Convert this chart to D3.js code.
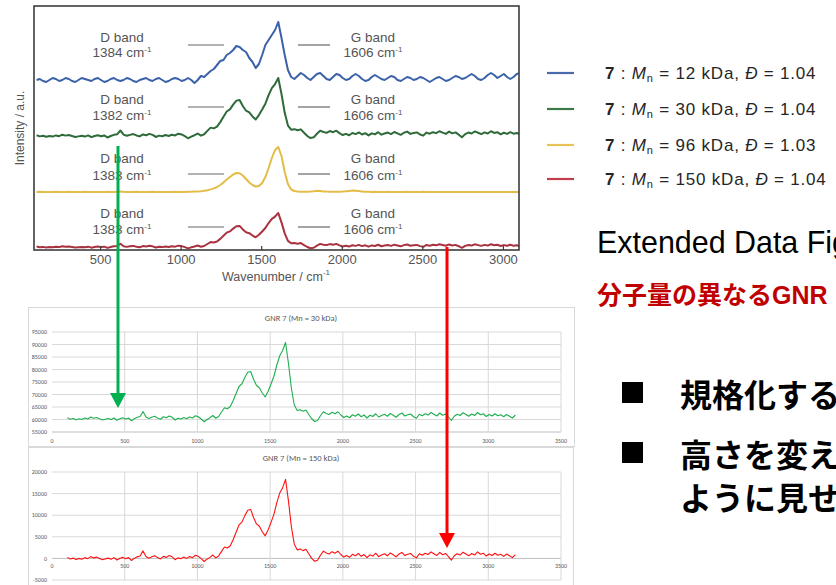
<!DOCTYPE html>
<html><head><meta charset="utf-8">
<script src="https://cdn.jsdelivr.net/npm/d3@7"></script>
<style>
html,body{margin:0;padding:0;background:#fff;overflow:hidden}
svg{display:block}
</style></head><body>
<svg id="c" width="836" height="585"></svg>
<script>
// Raman spectra of GNR 7 samples, sampled every 20 cm-1 from 106 cm-1
const waveStart = 106, waveStep = 20;

// Mn = 12 kDa (a.u., baseline 0)
const mn12 = [
  0, 1, -1, -2, 0, 2, 1, -1, 0, 2,
  1, -1, -2, 0, 2, 1, 0, -1, 1, 2,
  0, -2, -1, 1, 2, 0, -1, 0, 2, 1,
  -1, -2, 0, 1, 2, 0, -1, 1, 2, 0,
  -2, -1, 1, 2, 1, -1, 0, 2, 0, -3,
  0, 4, 3, 6, 9, 11, 15, 19, 20, 25,
  27, 30, 34, 33, 30, 28, 22, 18, 12, 16,
  25, 35, 40, 45, 50, 58, 42, 25, 10, 3,
  1, 4, 7, 5, 2, 0, 3, 6, 7, 4,
  1, 0, 3, 6, 5, 2, 0, 1, 4, 6,
  4, 1, -1, 0, 3, 5, 3, 1, 0, 2,
  4, 3, 0, -1, 1, 3, 2, 0, 1, 3,
  2, 0, -2, 0, 2, 3, 1, -1, 0, 2,
  4, 3, 1, 2, 4, 6, 4, 1, 0, 2,
  5, 7, 5, 2, 4, 6, 3, 1, 3, 6,
  7, 4, 2, 5, 3
];

// Mn = 30 kDa (counts)
const mn30 = [
  60700, 60100, 60400, 59900, 60300, 60000, 60600, 60200, 61000, 60500,
  60800, 60300, 59800, 60100, 60400, 60000, 60600, 59700, 60300, 60700,
  60200, 60600, 59500, 60300, 60900, 61200, 63200, 61000, 60400, 60900,
  61300, 60600, 60100, 61100, 60700, 61400, 60900, 59800, 60500, 60200,
  60800, 60300, 61000, 60600, 61500, 61100, 60200, 59100, 60000, 60700,
  61600, 60500, 61200, 63000, 64700, 64300, 65200, 67600, 70400, 73200,
  74300, 76800, 78900, 79200, 76100, 73600, 72700, 70600, 69000, 71300,
  74200, 77300, 81800, 85500, 87600, 90800, 82400, 72500, 65800, 63600,
  63900, 63300, 63800, 62000, 60300, 59200, 59600, 61500, 63100, 62400,
  62000, 62900, 62300, 63100, 61800, 60800, 61400, 60700, 61900, 61300,
  62200, 61100, 61800, 60600, 61700, 61200, 62300, 61000, 61600, 62100,
  61300, 62400, 61700, 60900, 62000, 62600, 61400, 61900, 62200, 61100,
  60500, 62100, 61500, 62300, 61800, 62800, 62100, 61400, 62600, 61700,
  62200, 61000, 59600, 61300, 62100, 61600, 62700, 62000, 61300, 62200,
  61600, 62800, 61900, 62300, 61200, 62000, 61400, 62300, 61500, 61900,
  61100, 62000, 61300, 60600, 61800
];

// Mn = 96 kDa (a.u., baseline 0)
const mn96 = [
  0, 0.2, 0.1, 0, -0.1, 0, 0.2, 0.1, 0, 0.1,
  0.2, 0, -0.1, 0, 0.1, 0.2, 0, 0.1, 0, -0.1,
  0, 0.1, 0.2, 0.1, 0, 0.2, 0.4, 0.2, 0.1, 0,
  0.1, 0.2, 0, 0.1, 0, 0.1, 0.2, 0, 0.1, 0,
  0.1, 0, 0.1, 0.2, 0.1, 0, 0.1, 0.2, 0.3, 0.4,
  0.5, 0.8, 1.2, 1.8, 2.6, 3.6, 5, 7, 9.5, 12.5,
  15, 17.5, 19, 18.8, 16.5, 13, 9.5, 7, 5.5, 6,
  9, 15, 24, 34, 42, 45, 36, 20, 8, 2.5,
  1, 0.5, 0.3, 0.2, 0.3, 0.5, 0.8, 1.2, 1, 0.6,
  0.4, 0.3, 0.2, 0.3, 0.2, 0.4, 0.7, 1.1, 1.5, 1.3,
  0.9, 0.5, 0.3, 0.2, 0.1, 0.2, 0.1, 0, 0.1, 0.2,
  0.1, 0, 0.1, 0, 0.1, 0.2, 0.1, 0, 0, 0.1,
  0.2, 0.1, 0, 0.1, 0, -0.1, 0, 0.1, 0, 0,
  0.1, 0, 0, 0.1, 0, -0.1, 0, 0.1, 0, 0.1,
  0, 0, 0.1, 0, -0.1, 0, 0.1, 0, 0, 0.1,
  0, 0.1, 0, 0, 0.1
];

// Mn = 150 kDa (counts)
const mn150 = [
  240, -120, 60, -240, 0, -180, 180, -60, 420, 120,
  300, 0, -300, -120, 60, -180, 180, -360, 0, 240,
  -60, 180, -480, 0, 360, 540, 1740, 420, 60, 360,
  600, 180, -120, 480, 240, 660, 360, -300, 120, -60,
  300, 0, 420, 180, 720, 480, -60, -720, -180, 240,
  780, 120, 540, 1620, 2640, 2400, 2940, 4380, 6060, 7740,
  8400, 9900, 11160, 11340, 9480, 7980, 7440, 6180, 5220, 6600,
  8340, 10200, 12900, 15120, 16380, 18300, 13260, 7320, 3300, 1980,
  2160, 1800, 2100, 1020, 0, -660, -420, 720, 1680, 1260,
  1020, 1560, 1200, 1680, 900, 300, 660, 240, 960, 600,
  1140, 480, 900, 180, 840, 540, 1200, 420, 780, 1080,
  600, 1260, 840, 360, 1020, 1380, 660, 960, 1140, 480,
  120, 1080, 720, 1200, 900, 1500, 1080, 660, 1380, 840,
  1140, 420, -420, 600, 1080, 780, 1440, 1020, 600, 1140,
  780, 1500, 960, 1200, 540, 1020, 660, 1200, 720, 960,
  480, 1020, 600, 180, 900
];

const seriesMn = ["12", "30", "96", "150"];
const seriesDispersity = ["1.04", "1.04", "1.03", "1.04"];
const dBandPos = ["1384", "1382", "1383", "1383"];
const gBandPos = ["1606", "1606", "1606", "1606"];
const stackTicks = [500, 1000, 1500, 2000, 2500, 3000];
const sheetXTicks = [0, 500, 1000, 1500, 2000, 2500, 3000, 3500];
const sheet30YTicks = [55000, 60000, 65000, 70000, 75000, 80000, 85000, 90000, 95000];
const sheet150YTicks = [-5000, 0, 5000, 10000, 15000, 20000];

const wavenumbers = mn30.map((_, i) => waveStart + i * waveStep);
const spectra = [mn12, mn30, mn96, mn150];

const svg = d3.select("#c");
const sans = "Liberation Sans, Arial, Helvetica, sans-serif";

// ---------- stacked spectra panel ----------
const frame = {x0: 34, x1: 519, y0: 6, y1: 250};
const xStack = d3.scaleLinear().domain([90, 3100]).range([frame.x0, frame.x1]);
const traceColors = ["#3b62a8", "#2f6b3a", "#e3bd48", "#a8323f"];
const traceBands = [
  {domain: [0, 58], range: [80, 22]},
  {domain: [60300, 90800], range: [136, 78]},
  {domain: [0, 45], range: [192, 147]},
  {domain: [0, 18300], range: [247, 213]}
];
const labelRows = [
  {tick: 45, t1: 42, t2: 57},
  {tick: 107, t1: 104, t2: 120},
  {tick: 174, t1: 163, t2: 180},
  {tick: 227, t1: 218, t2: 234}
];

svg.append("clipPath").attr("id", "frameClip")
  .append("rect").attr("x", frame.x0).attr("y", frame.y0)
  .attr("width", frame.x1 - frame.x0).attr("height", frame.y1 - frame.y0);

const stack = svg.append("g");
const traces = stack.append("g").attr("clip-path", "url(#frameClip)");
spectra.forEach((vals, k) => {
  const y = d3.scaleLinear().domain(traceBands[k].domain).range(traceBands[k].range);
  const line = d3.line().x((d, i) => xStack(wavenumbers[i])).y(d => y(d));
  traces.append("path").datum(vals)
    .attr("d", line).attr("fill", "none")
    .attr("stroke", traceColors[k]).attr("stroke-width", 2)
    .attr("stroke-linejoin", "round");
});

// band annotations
function bandLabel(g, cx, row, name, pos) {
  g.append("text").attr("x", cx).attr("y", row.t1).attr("text-anchor", "middle")
    .attr("font-family", sans).attr("font-size", 13.5).attr("fill", "#555").text(name);
  const t = g.append("text").attr("x", cx).attr("y", row.t2).attr("text-anchor", "middle")
    .attr("font-family", sans).attr("font-size", 13.5).attr("fill", "#555");
  t.append("tspan").text(pos + " cm");
  t.append("tspan").attr("font-size", 8).attr("dy", -5).text("-1");
}
labelRows.forEach((row, k) => {
  stack.append("line").attr("x1", 188).attr("x2", 224).attr("y1", row.tick).attr("y2", row.tick)
    .attr("stroke", "#666").attr("stroke-width", 1.2);
  stack.append("line").attr("x1", 298).attr("x2", 330).attr("y1", row.tick).attr("y2", row.tick)
    .attr("stroke", "#666").attr("stroke-width", 1.2);
  bandLabel(stack, 122, row, "D band", dBandPos[k]);
  bandLabel(stack, 373, row, "G band", gBandPos[k]);
});

stack.append("rect").attr("x", frame.x0).attr("y", frame.y0)
  .attr("width", frame.x1 - frame.x0).attr("height", frame.y1 - frame.y0)
  .attr("fill", "none").attr("stroke", "#3c3c3c").attr("stroke-width", 1.6);

const stackAxis = stack.append("g").attr("transform", `translate(0,${frame.y1})`)
  .call(d3.axisBottom(xStack).tickValues(stackTicks).tickFormat(d3.format("d"))
    .tickSizeInner(-4).tickSizeOuter(0).tickPadding(5));
stackAxis.select(".domain").remove();
stackAxis.selectAll("line").attr("stroke", "#3c3c3c").attr("stroke-width", 1.2);
stackAxis.selectAll("text").attr("font-family", sans).attr("font-size", 13).attr("fill", "#555");

const xTitle = stack.append("text").attr("x", 222).attr("y", 281)
  .attr("font-family", sans).attr("font-size", 12.5).attr("fill", "#555");
xTitle.append("tspan").text("Wavenumber / cm");
xTitle.append("tspan").attr("font-size", 8).attr("dy", -6).text("-1");

stack.append("text").attr("transform", "translate(24,128) rotate(-90)")
  .attr("text-anchor", "middle").attr("font-family", sans).attr("font-size", 12)
  .attr("fill", "#555").text("Intensity / a.u.");

// legend
const legendColors = ["#4a6aaa", "#3c7848", "#e8c458", "#c23c4c"];
const legendRows = [73, 109, 145, 179];
seriesMn.forEach((mn, k) => {
  const ly = legendRows[k];
  svg.append("line").attr("x1", 547).attr("x2", 574).attr("y1", ly).attr("y2", ly)
    .attr("stroke", legendColors[k]).attr("stroke-width", 2.2);
  const t = svg.append("text").attr("x", 605).attr("y", ly + 6)
    .attr("font-family", sans).attr("font-size", 17).attr("letter-spacing", 0.8)
    .attr("fill", "#262626");
  t.append("tspan").attr("font-weight", "bold").text("7");
  t.append("tspan").text(" : ");
  t.append("tspan").attr("font-style", "italic").text("M");
  t.append("tspan").attr("font-size", 11).attr("dy", 3).text("n");
  t.append("tspan").attr("dy", -3).text(` = ${mn} kDa, `);
  t.append("tspan").attr("font-style", "italic").text("Đ");
  t.append("tspan").text(` = ${seriesDispersity[k]}`);
});

// ---------- spreadsheet-style panels ----------
const xSheet = d3.scaleLinear().domain([0, 3500]).range([52, 561]);
const gridColor = "#d9d9d9", labelColor = "#595959";
const excelFont = "Carlito, Liberation Sans, Arial, sans-serif";

function sheetPanel(box, yScale, yTicks, vals, color, title, titleY, xLabelY, axisVal) {
  const g = svg.append("g");
  g.append("rect").attr("x", box.x).attr("y", box.y).attr("width", box.w).attr("height", box.h)
    .attr("fill", "#fff").attr("stroke", gridColor).attr("stroke-width", 1);
  const [yb, yt] = yScale.range();
  yTicks.forEach(v => {
    g.append("line").attr("x1", xSheet(0)).attr("x2", xSheet(3500))
      .attr("y1", yScale(v)).attr("y2", yScale(v))
      .attr("stroke", v === axisVal ? "#bfbfbf" : gridColor).attr("stroke-width", 1);
    g.append("text").attr("x", 47).attr("y", yScale(v)).attr("dy", "0.35em")
      .attr("text-anchor", "end").attr("font-family", excelFont).attr("font-size", 6)
      .attr("fill", labelColor).text(v);
  });
  sheetXTicks.forEach(v => {
    if (v > 0) g.append("line").attr("x1", xSheet(v)).attr("x2", xSheet(v))
      .attr("y1", yt).attr("y2", yb).attr("stroke", gridColor).attr("stroke-width", 1);
    g.append("text").attr("x", xSheet(v)).attr("y", xLabelY).attr("dy", "0.35em")
      .attr("text-anchor", "middle").attr("font-family", excelFont).attr("font-size", 6)
      .attr("fill", labelColor).text(v);
  });
  g.append("text").attr("x", 301).attr("y", titleY).attr("dy", "0.35em").attr("text-anchor", "middle")
    .attr("font-family", excelFont).attr("font-size", 8.5).attr("fill", labelColor).text(title);
  const line = d3.line().x((d, i) => xSheet(wavenumbers[i])).y(d => yScale(d));
  g.append("path").datum(vals).attr("d", line).attr("fill", "none")
    .attr("stroke", color).attr("stroke-width", 1.1).attr("stroke-linejoin", "round");
}

sheetPanel({x: 28.5, y: 307.5, w: 546, h: 139},
  d3.scaleLinear().domain([55000, 95000]).range([432, 332]),
  sheet30YTicks, mn30, "#1fae4f", "GNR 7 (Mn = 30 kDa)", 318, 441, 55000);
sheetPanel({x: 28.5, y: 447.5, w: 545, h: 150},
  d3.scaleLinear().domain([-5000, 20000]).range([580, 472]),
  sheet150YTicks, mn150, "#ff1010", "GNR 7 (Mn = 150 kDa)", 458, 566, 0);

// ---------- arrows ----------
function arrow(x, yStart, yTip, color) {
  svg.append("line").attr("x1", x).attr("x2", x).attr("y1", yStart).attr("y2", yTip - 12)
    .attr("stroke", color).attr("stroke-width", 3);
  svg.append("path").attr("d", `M${x - 8},${yTip - 15}L${x + 8},${yTip - 15}L${x},${yTip}Z`)
    .attr("fill", color);
}
arrow(118, 146, 408, "#00b050");
arrow(447, 247, 548, "#ff0000");

// ---------- notes ----------
svg.append("text").attr("x", 597).attr("y", 253)
  .attr("font-family", "Liberation Sans Narrow, Arial Narrow, Liberation Sans, sans-serif")
  .attr("font-size", 32).attr("textLength", 252).attr("lengthAdjust", "spacingAndGlyphs")
  .attr("fill", "#000").text("Extended Data Fig");
svg.append("text").attr("x", 597).attr("y", 304)
  .attr("font-family", "Liberation Sans, Noto Sans CJK JP, sans-serif")
  .attr("font-weight", "bold").attr("font-size", 25).attr("fill", "#c00000")
  .text("分子量の異なるGNR");

const jp = "Noto Sans CJK JP, sans-serif";
[[382, "規格化する", 407], [442, "高さを変え", 467]].forEach(([sy, txt, by]) => {
  svg.append("rect").attr("x", 622).attr("y", sy).attr("width", 21).attr("height", 21).attr("fill", "#000");
  svg.append("text").attr("x", 680).attr("y", by).attr("font-family", jp)
    .attr("font-weight", "bold").attr("font-size", 32).attr("fill", "#000").text(txt);
});
svg.append("text").attr("x", 680).attr("y", 510).attr("font-family", jp)
  .attr("font-weight", "bold").attr("font-size", 32).attr("fill", "#000").text("ように見せ");
</script>
</body></html>
